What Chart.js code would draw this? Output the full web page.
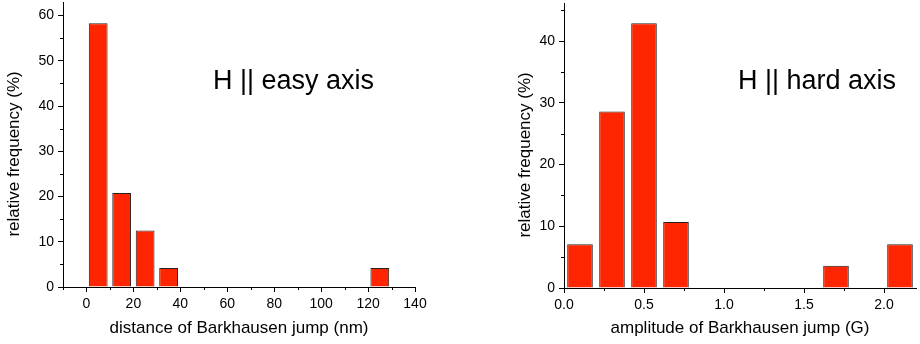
<!DOCTYPE html>
<html>
<head>
<meta charset="utf-8">
<script src="https://cdn.jsdelivr.net/npm/chart.js@4.4.1/dist/chart.umd.min.js"></script>
<style>
  body { margin: 0; background: #fff; }
  .panel { position: absolute; top: 0; width: 460px; height: 344px; }
</style>
</head>
<body>
<div class="panel" style="left:0"><canvas id="easyCanvas" width="460" height="344"></canvas></div>
<div class="panel" style="left:460px"><canvas id="hardCanvas" width="460" height="344"></canvas></div>
<script>
// easy axis: distance of jump (nm), bin centres and relative frequency (%)
const easyBins = [5, 15, 25, 35, 125];
const easyFreq = [58.3, 20.8, 12.5, 4.2, 4.2];
const easyXTicks = [0, 20, 40, 60, 80, 100, 120, 140];
const easyYTicks = [0, 10, 20, 30, 40, 50, 60];

// hard axis: amplitude of jump (G)
const hardBins = [0.1, 0.3, 0.5, 0.7, 1.7, 2.1];
const hardFreq = [7.1, 28.6, 42.9, 10.7, 3.6, 7.1];
const hardXTicks = [0, 0.5, 1.0, 1.5, 2.0];
const hardYTicks = [0, 10, 20, 30, 40];

const FONT = "'Liberation Sans', Arial, sans-serif";

// kleine Zwischenstriche (Mitte zwischen zwei Hauptticks)
const minorTicks = {
    id: "minorTicks",
    afterDraw(chart) {
        const ctx = chart.ctx;
        ctx.save();
        ctx.strokeStyle = "#000";
        ctx.lineWidth = 1;
        ["x", "y"].forEach(id => {
            const scale = chart.scales[id];
            const vals = scale.ticks.map(t => t.value);
            const step = vals[1] - vals[0];
            let mids = [];
            for (let i = 0; i < vals.length - 1; i++) mids.push((vals[i] + vals[i + 1]) / 2);
            if (vals[vals.length - 1] + step / 2 <= scale.max) mids.push(vals[vals.length - 1] + step / 2);
            if (vals[0] - step / 2 >= scale.min) mids.push(vals[0] - step / 2);
            mids.forEach(v => {
                const p = Math.round(scale.getPixelForValue(v)) + 0.5;
                ctx.beginPath();
                if (id === "x") {
                    ctx.moveTo(p, scale.top);
                    ctx.lineTo(p, scale.top + 3);
                } else {
                    ctx.moveTo(scale.right, p);
                    ctx.lineTo(scale.right - 3, p);
                }
                ctx.stroke();
            });
        });
        ctx.restore();
    }
};

const panelLabel = {
    id: "panelLabel",
    afterDraw(chart, args, opts) {
        const ctx = chart.ctx;
        ctx.save();
        ctx.font = "27px " + FONT;
        ctx.fillStyle = "#000";
        ctx.textBaseline = "alphabetic";
        ctx.fillText(opts.text, opts.x, opts.y);
        ctx.restore();
    }
};

function crearHistograma(canvasId, bins, freq, cfg) {
    const ctx = document.getElementById(canvasId).getContext("2d");
    return new Chart(ctx, {
        type: "bar",
        data: {
            datasets: [{
                data: bins.map((b, i) => ({ x: b, y: freq[i] })),
                backgroundColor: "#ff2500",
                borderColor: "#222",
                borderWidth: 1,
                barPercentage: 0.8,
                categoryPercentage: 1.0
            }]
        },
        options: {
            responsive: false,
            animation: false,
            layout: { padding: cfg.padding },
            plugins: {
                legend: { display: false },
                tooltip: { enabled: false },
                panelLabel: cfg.label
            },
            scales: {
                x: {
                    type: "linear",
                    offset: false,
                    min: cfg.xMin,
                    max: cfg.xMax,
                    afterBuildTicks: axis => { axis.ticks = cfg.xTicks.map(v => ({ value: v })); },
                    afterFit: axis => {
                        axis.height = cfg.xHeight;
                        axis.paddingLeft = axis.paddingRight = axis.paddingTop = axis.paddingBottom = 0;
                    },
                    grid: { display: true, drawOnChartArea: false, offset: false, tickLength: 5, color: "#000" },
                    border: { display: true, color: "#000", width: 1 },
                    ticks: {
                        color: "#000",
                        padding: 4,
                        maxRotation: 0,
                        autoSkip: false,
                        font: { family: FONT, size: 14 },
                        callback: v => cfg.xFormat(v)
                    },
                    title: {
                        display: true,
                        text: cfg.xTitle,
                        color: "#000",
                        padding: 0,
                        font: { family: FONT, size: 17 }
                    }
                },
                y: {
                    min: 0,
                    max: cfg.yMax,
                    afterBuildTicks: axis => { axis.ticks = cfg.yTicks.map(v => ({ value: v })); },
                    afterFit: axis => {
                        axis.width = cfg.yWidth;
                        axis.paddingLeft = axis.paddingRight = axis.paddingTop = axis.paddingBottom = 0;
                    },
                    grid: { display: true, drawOnChartArea: false, tickLength: 5, color: "#000" },
                    border: { display: true, color: "#000", width: 1 },
                    ticks: {
                        color: "#000",
                        padding: 4,
                        font: { family: FONT, size: 14 }
                    },
                    title: {
                        display: true,
                        text: "relative frequency (%)    ",
                        color: "#000",
                        padding: 0,
                        font: { family: FONT, size: 17 }
                    }
                }
            }
        },
        plugins: [minorTicks, panelLabel]
    });
}

document.addEventListener("DOMContentLoaded", function () {
    crearHistograma("easyCanvas", easyBins, easyFreq, {
        padding: { left: 4, right: 45, top: 2, bottom: 5 },
        xMin: -10, xMax: 140, yMax: 63,
        xTicks: easyXTicks, yTicks: easyYTicks,
        xHeight: 52, yWidth: 59,
        xFormat: v => String(v),
        xTitle: "distance of Barkhausen jump (nm)",
        label: { text: "H || easy axis", x: 213, y: 89 }
    });
    crearHistograma("hardCanvas", hardBins, hardFreq, {
        padding: { left: 55, right: 4, top: 3, bottom: 5 },
        xMin: 0, xMax: 2.2, yMax: 46.2,
        xTicks: hardXTicks, yTicks: hardYTicks,
        xHeight: 51, yWidth: 49,
        xFormat: v => Number(v).toFixed(1),
        xTitle: "amplitude of Barkhausen jump (G)",
        label: { text: "H || hard axis", x: 278, y: 89 }
    });
});
</script>
</body>
</html>
